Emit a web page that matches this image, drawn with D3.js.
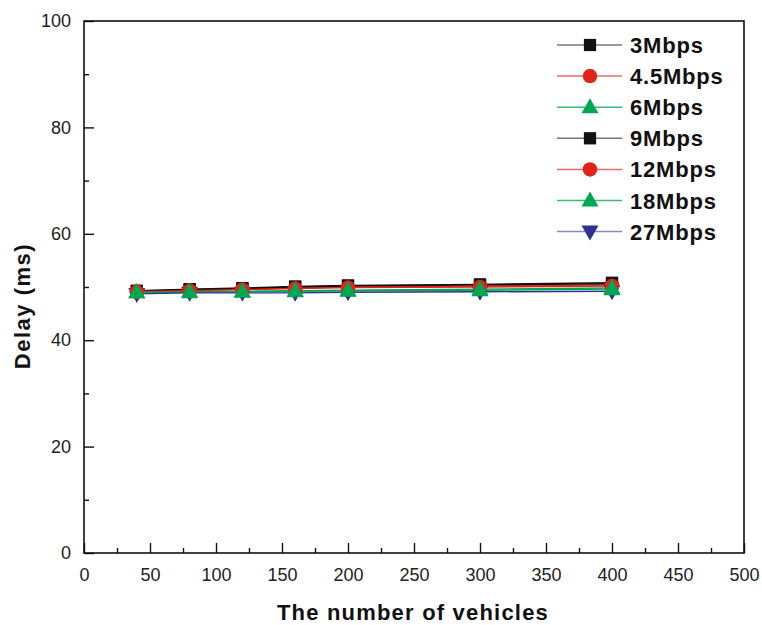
<!DOCTYPE html>
<html><head><meta charset="utf-8">
<script src="https://cdn.jsdelivr.net/npm/d3@7"></script>
<style>body{margin:0;background:#fff}svg{display:block}</style>
</head><body>
<svg id="c" width="762" height="625"></svg>
<script>
const vehicles = [40, 80, 120, 160, 200, 300, 400];
const seriesNames = ["3Mbps", "4.5Mbps", "6Mbps", "9Mbps", "12Mbps", "18Mbps", "27Mbps"];
const s3 = [49.3, 49.6, 49.8, 50.1, 50.3, 50.5, 50.8];
const s45 = [49.2, 49.4, 49.6, 49.8, 50.0, 50.2, 50.4];
const s6 = [49.0, 49.1, 49.2, 49.3, 49.4, 49.6, 49.8];
const s9 = [49.2, 49.5, 49.7, 50.0, 50.2, 50.4, 50.6];
const s12 = [49.1, 49.3, 49.5, 49.7, 49.9, 50.0, 50.2];
const s18 = [49.0, 49.0, 49.1, 49.2, 49.3, 49.4, 49.6];
const s27 = [48.7, 48.9, 48.9, 48.9, 49.0, 49.1, 49.2];
const xTicks = [0, 50, 100, 150, 200, 250, 300, 350, 400, 450, 500];
const yTicks = [0, 20, 40, 60, 80, 100];

const allValues = [s3, s45, s6, s9, s12, s18, s27];
const markerTypes = ["square", "circle", "triangle", "square", "circle", "triangle", "down"];
const colors = ["#111111", "#e2231a", "#00a651", "#111111", "#e2231a", "#00a651", "#2e3192"];
const legendLineColors = ["#777777", "#ee6a60", "#3cba78", "#777777", "#ee6a60", "#3cba78", "#8a86c4"];
const markerOrder = [6, 0, 1, 3, 4, 2, 5];

const svg = d3.select("#c");
const L = 84, R = 744, T = 21, B = 553;
const x = d3.scaleLinear().domain([0, 500]).range([L, R]);
const y = d3.scaleLinear().domain([0, 100]).range([B, T]);

svg.append("rect").attr("x", L).attr("y", T).attr("width", R - L).attr("height", B - T)
  .attr("fill", "none").attr("stroke", "#111").attr("stroke-width", 1.6);

const font = "Liberation Sans, Arial, Helvetica, sans-serif";

// x axis
const xMinor = d3.range(25, 500, 50);
const gx = svg.append("g").attr("transform", `translate(0,${B})`)
  .call(d3.axisBottom(x).tickValues(xTicks).tickSize(-10).tickPadding(15).tickFormat(d3.format("d")));
gx.select(".domain").remove();
gx.selectAll("line").attr("stroke", "#111").attr("stroke-width", 1.4);
gx.selectAll("text").attr("font-family", font).attr("font-size", 18).attr("fill", "#222");
svg.append("g").attr("transform", `translate(0,${B})`)
  .call(d3.axisBottom(x).tickValues(xMinor).tickSize(-5).tickFormat(""))
  .call(g => { g.select(".domain").remove(); g.selectAll("line").attr("stroke", "#111").attr("stroke-width", 1.4); });

// y axis
const yMinor = d3.range(10, 100, 20);
const gy = svg.append("g").attr("transform", `translate(${L},0)`)
  .call(d3.axisLeft(y).tickValues(yTicks).tickSize(-10).tickPadding(13).tickFormat(d3.format("d")));
gy.select(".domain").remove();
gy.selectAll("line").attr("stroke", "#111").attr("stroke-width", 1.4);
gy.selectAll("text").attr("font-family", font).attr("font-size", 18).attr("fill", "#222");
svg.append("g").attr("transform", `translate(${L},0)`)
  .call(d3.axisLeft(y).tickValues(yMinor).tickSize(-5).tickFormat(""))
  .call(g => { g.select(".domain").remove(); g.selectAll("line").attr("stroke", "#111").attr("stroke-width", 1.4); });

// axis titles
svg.append("text").attr("x", 413).attr("y", 620).attr("text-anchor", "middle")
  .attr("font-family", font).attr("font-weight", "bold").attr("font-size", 22)
  .attr("letter-spacing", 1.2).attr("fill", "#111")
  .text("The number of vehicles");
svg.append("text").attr("transform", `translate(30,306) rotate(-90)`).attr("text-anchor", "middle")
  .attr("font-family", font).attr("font-weight", "bold").attr("font-size", 22)
  .attr("letter-spacing", 1.5).attr("fill", "#111")
  .text("Delay (ms)");

function symbolPath(type) {
  if (type === "square") return d3.symbol().type(d3.symbolSquare).size(150)();
  if (type === "circle") return d3.symbol().type(d3.symbolCircle).size(165)();
  if (type === "triangle") return "M0,-9L8.5,6L-8.5,6Z";
  return "M0,9L8.5,-6L-8.5,-6Z";
}

const line = d3.line().x((d, i) => x(vehicles[i])).y(d => y(d));
allValues.forEach((vals, k) => {
  svg.append("path").attr("d", line(vals)).attr("fill", "none")
    .attr("stroke", colors[k]).attr("stroke-width", 1.4);
});
markerOrder.forEach(k => {
  svg.append("g").selectAll("path").data(allValues[k]).join("path")
    .attr("transform", (d, i) => `translate(${x(vehicles[i])},${y(d)})`)
    .attr("d", symbolPath(markerTypes[k])).attr("fill", colors[k]);
});

// legend
const lg = svg.append("g");
seriesNames.forEach((name, k) => {
  const cy = 45 + k * 31.1;
  lg.append("line").attr("x1", 557).attr("x2", 622).attr("y1", cy).attr("y2", cy)
    .attr("stroke", legendLineColors[k]).attr("stroke-width", 1.5);
  lg.append("path").attr("transform", `translate(590,${cy})`).attr("d", symbolPath(markerTypes[k])).attr("fill", colors[k]);
  lg.append("text").attr("x", 630).attr("y", cy + 8).attr("font-family", font).attr("font-weight", "bold")
    .attr("font-size", 22).attr("letter-spacing", 0.8).attr("fill", "#111").text(name);
});
</script>
</body></html>
